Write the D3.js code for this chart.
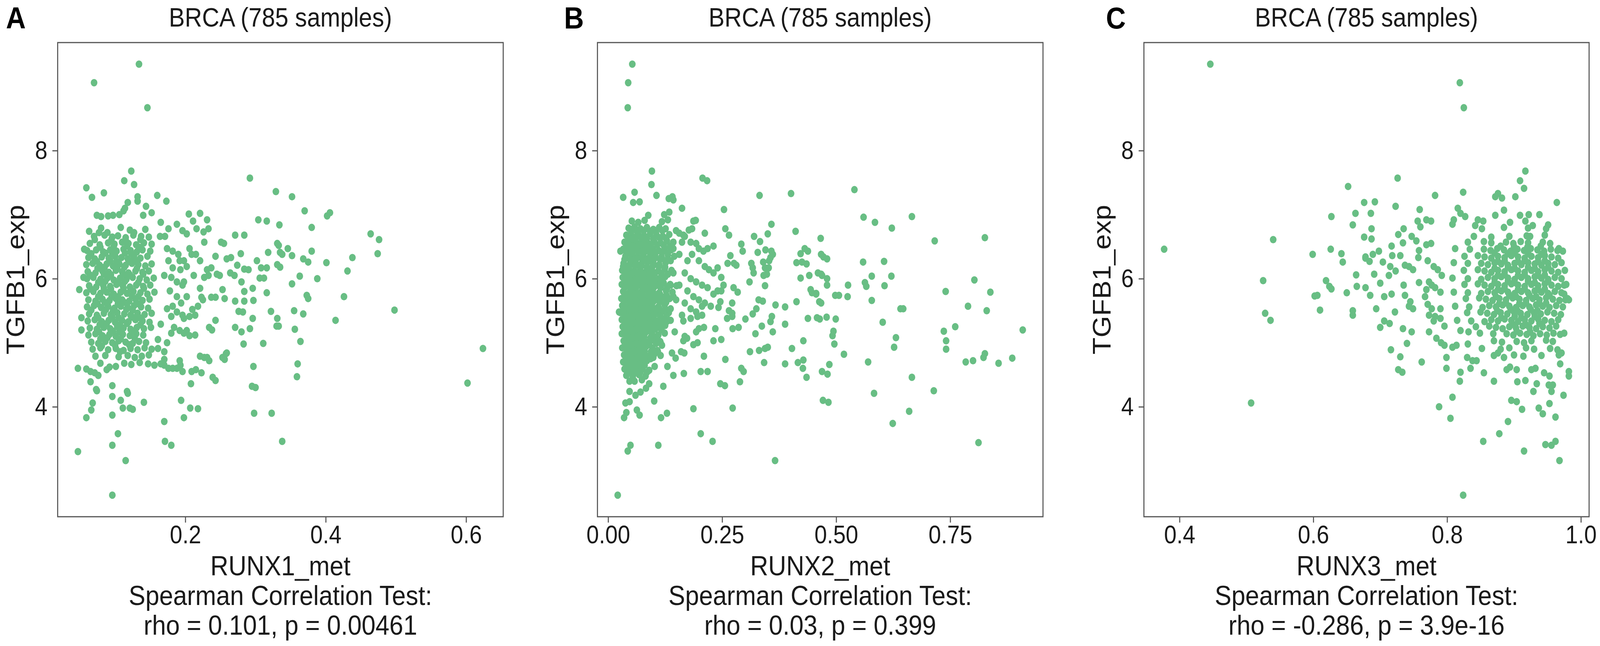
<!DOCTYPE html>
<html>
<head>
<meta charset="utf-8">
<script src="https://cdn.jsdelivr.net/npm/d3@7"></script>
<style>
  html, body { margin: 0; padding: 0; width: 100%; height: 100%; overflow: hidden; background: #fff; }
  #chart { width: 100%; height: 100%; }
  #chart svg { display: block; }
</style>
</head>
<body>
<div id="chart"></div>
<script>
// ---- data ----
const sampleTitle = "BRCA (785 samples)";
const yLabel = "TGFB1_exp";
const yTicks = [4, 6, 8];

const runx1Ticks = [0.2, 0.4, 0.6];
const runx2Ticks = [0, 0.25, 0.5, 0.75];
const runx3Ticks = [0.4, 0.6, 0.8, 1.0];

const xLabels = ["RUNX1_met", "RUNX2_met", "RUNX3_met"];
const statLines = ["rho = 0.101, p = 0.00461", "rho = 0.03, p = 0.399", "rho = -0.286, p = 3.9e-16"];

// [methylation, expression]
const runx1Points = [
  [0.134,9.35],[0.070,9.06],[0.146,8.67],
  [0.123,7.68],[0.113,7.53],[0.127,7.47],[0.059,7.42],[0.067,7.27],[0.084,7.34],[0.292,7.57],[0.329,7.36],[0.160,7.30],[0.173,7.21],[0.132,7.28],[0.132,7.21],[0.118,7.19],[0.114,7.10],[0.144,7.13],[0.152,7.03],
  [0.074,6.99],[0.080,6.97],[0.090,6.98],[0.097,6.99],[0.106,7.00],[0.112,7.06],[0.140,6.99],
  [0.205,7.01],[0.221,7.02],[0.211,6.90],[0.231,6.92],[0.304,6.92],[0.316,6.90],[0.334,6.84],
  [0.063,6.74],[0.077,6.72],[0.271,6.68],[0.284,6.68],[0.251,6.57],[0.255,6.55],[0.331,6.55],[0.318,6.41],[0.335,6.41],[0.331,6.22],[0.279,6.39],[0.243,6.35],[0.259,6.31],[0.265,6.33],[0.302,6.28],[0.308,6.17],[0.316,6.17],[0.306,6.01],[0.312,6.01],[0.284,6.15],[0.274,6.21],[0.290,6.14],[0.270,6.05],[0.264,6.09],[0.280,5.95],[0.296,5.85],[0.316,5.78],[0.284,5.80],[0.297,5.66],[0.271,5.65],[0.284,5.65],[0.276,5.49],[0.282,5.48],[0.322,5.49],[0.296,5.38],[0.331,5.38],[0.330,5.26],[0.271,5.24],[0.280,5.17],[0.292,5.22],[0.283,4.98],[0.311,4.99],[0.297,4.63],[0.295,4.32],[0.298,3.90],[0.323,3.90],[0.338,3.46],
  [0.253,5.83],[0.256,5.69],[0.249,6.05],[0.245,6.07],[0.237,5.71],[0.243,5.71],[0.243,5.35],[0.234,5.24],[0.238,5.20],[0.221,5.85],[0.227,6.02],[0.233,6.05],[0.237,6.17],[0.231,6.14],[0.223,5.71],[0.225,5.67],[0.218,5.57],[0.214,5.43],[0.210,5.52],[0.221,6.28],[0.215,6.38],[0.212,6.05],[0.226,6.73],[0.227,6.57],[0.233,6.78],[0.216,6.78],[0.206,6.47],[0.209,6.38],[0.198,6.28],[0.202,6.19],[0.193,6.14],[0.198,5.95],[0.214,5.12],[0.202,5.19],[0.206,5.11],[0.198,5.38],
  [0.221,4.79],[0.231,4.77],[0.227,4.77],[0.253,4.77],[0.259,4.84],[0.239,4.46],[0.243,4.41],[0.209,4.55],[0.215,4.58],[0.223,4.53],[0.208,4.36],[0.192,4.72],[0.193,4.65],[0.196,4.55],[0.188,4.60],[0.182,4.60],[0.176,4.60],[0.170,4.65],[0.165,4.67],[0.170,4.74],
  [0.194,4.10],[0.207,3.98],[0.218,3.97],[0.198,3.83],[0.170,3.77],[0.171,3.46],[0.180,3.40],[0.141,4.07],[0.096,4.33],[0.096,4.16],[0.096,3.87],[0.108,4.10],[0.111,3.98],[0.118,4.21],[0.121,3.98],[0.125,3.96],[0.117,4.24],[0.104,3.58],[0.096,3.40],[0.115,3.16],[0.096,2.62],[0.047,3.30],[0.059,3.83],[0.066,3.95],[0.068,4.06],[0.073,4.27],[0.074,4.25],[0.065,4.39],[0.047,4.60],[0.059,4.59],[0.065,4.55],[0.071,4.53],[0.076,4.49],[0.079,4.68],[0.088,4.58],[0.092,4.62],[0.101,4.63],[0.049,5.83],[0.052,5.39],[0.052,5.20],[0.056,6.46],[0.055,6.02],
  [0.352,7.28],[0.370,7.06],[0.406,7.03],[0.402,6.98],[0.380,6.80],[0.464,6.70],[0.476,6.61],[0.474,6.39],[0.438,6.33],[0.431,6.12],[0.401,6.25],[0.380,6.43],[0.388,6.00],[0.363,6.04],[0.375,6.26],[0.368,6.31],[0.352,6.36],[0.338,6.38],[0.346,6.47],[0.333,6.52],[0.335,6.18],[0.352,5.92],[0.373,5.74],[0.375,5.69],[0.426,5.72],[0.414,5.35],[0.368,5.45],[0.355,5.50],[0.498,5.51],[0.356,5.21],[0.364,5.02],[0.360,4.67],[0.359,4.47],[0.300,4.30],[0.624,4.91],[0.602,4.37],[0.333,5.26],[0.258,4.83],[0.256,4.74],[0.234,4.72],
  [0.165,6.88],[0.164,6.66],[0.171,6.66],[0.176,6.78],[0.188,6.85],[0.196,6.75],[0.202,6.70],[0.174,6.47],[0.182,6.43],[0.190,6.38],[0.192,6.28],[0.176,6.28],[0.182,6.17],[0.170,6.05],[0.180,6.02],[0.188,5.95],[0.196,5.90],[0.202,5.72],[0.178,5.81],[0.188,5.72],[0.194,5.62],[0.182,5.57],[0.174,5.53],[0.188,5.48],[0.196,5.43],[0.206,5.41],[0.180,5.41],[0.184,5.24],[0.192,5.19],[0.198,5.15],[0.180,5.15],[0.165,5.29],[0.161,5.05],[0.174,5.00],[0.161,4.91],[0.170,4.86],
  [0.080,6.79],[0.108,6.80],[0.121,6.76],[0.143,6.77],
  [0.070,6.66],[0.085,6.68],[0.096,6.65],[0.104,6.67],[0.115,6.64],[0.126,6.68],[0.137,6.66],[0.148,6.65],
  [0.064,6.55],[0.078,6.53],[0.090,6.56],[0.099,6.54],[0.110,6.57],[0.119,6.55],[0.130,6.53],[0.141,6.56],[0.152,6.54],
  [0.060,6.44],[0.073,6.45],[0.083,6.42],[0.093,6.45],[0.102,6.43],[0.112,6.46],[0.122,6.44],[0.131,6.42],[0.139,6.45],[0.150,6.43],
  [0.062,6.33],[0.071,6.31],[0.081,6.34],[0.091,6.32],[0.100,6.35],[0.109,6.33],[0.118,6.31],[0.127,6.34],[0.136,6.32],[0.146,6.35],
  [0.059,6.22],[0.068,6.24],[0.078,6.21],[0.088,6.23],[0.097,6.20],[0.106,6.23],[0.115,6.21],[0.124,6.24],[0.133,6.22],[0.143,6.20],[0.152,6.23],
  [0.061,6.11],[0.072,6.09],[0.082,6.12],[0.091,6.10],[0.101,6.13],[0.110,6.11],[0.119,6.09],[0.129,6.12],[0.139,6.10],[0.148,6.12],
  [0.060,6.00],[0.069,6.02],[0.079,5.99],[0.089,6.01],[0.098,5.98],[0.107,6.01],[0.116,5.99],[0.125,6.02],[0.135,6.00],[0.145,5.98],[0.155,6.01],
  [0.063,5.89],[0.073,5.87],[0.083,5.90],[0.093,5.88],[0.102,5.91],[0.111,5.89],[0.121,5.87],[0.130,5.90],[0.140,5.88],[0.150,5.90],
  [0.059,5.78],[0.069,5.80],[0.079,5.77],[0.088,5.79],[0.098,5.76],[0.108,5.79],[0.117,5.77],[0.126,5.80],[0.136,5.78],[0.146,5.76],[0.156,5.79],
  [0.062,5.67],[0.072,5.65],[0.082,5.68],[0.092,5.66],[0.101,5.69],[0.110,5.67],[0.120,5.65],[0.129,5.68],[0.139,5.66],[0.149,5.68],
  [0.060,5.56],[0.070,5.58],[0.080,5.55],[0.090,5.57],[0.099,5.54],[0.108,5.57],[0.118,5.55],[0.127,5.58],[0.137,5.56],[0.147,5.54],
  [0.063,5.45],[0.074,5.43],[0.084,5.46],[0.094,5.44],[0.103,5.47],[0.113,5.45],[0.122,5.43],[0.132,5.46],[0.142,5.44],[0.152,5.46],
  [0.061,5.34],[0.071,5.36],[0.081,5.33],[0.091,5.35],[0.100,5.32],[0.110,5.35],[0.119,5.33],[0.129,5.36],[0.139,5.34],[0.149,5.32],
  [0.064,5.23],[0.074,5.21],[0.084,5.24],[0.093,5.22],[0.103,5.25],[0.112,5.23],[0.122,5.21],[0.131,5.24],[0.141,5.22],[0.151,5.24],
  [0.062,5.12],[0.072,5.14],[0.082,5.11],[0.092,5.13],[0.101,5.10],[0.111,5.13],[0.121,5.11],[0.130,5.14],[0.140,5.12],
  [0.066,5.01],[0.076,4.99],[0.086,5.02],[0.096,5.00],[0.105,5.03],[0.115,5.01],[0.125,4.99],[0.134,5.02],[0.144,5.00],
  [0.068,4.90],[0.079,4.92],[0.090,4.89],[0.101,4.91],[0.112,4.88],[0.122,4.91],[0.132,4.89],[0.142,4.92],[0.152,4.90],
  [0.072,4.79],[0.086,4.80],[0.105,4.78],[0.118,4.80],[0.128,4.77],[0.138,4.79],[0.148,4.81],
  [0.113,4.68],[0.123,4.66],[0.135,4.69],[0.147,4.67],[0.156,4.65],
  [0.089,6.72],[0.127,6.72],
  [0.071,6.61],[0.095,6.62],[0.115,6.60],[0.136,6.61],
  [0.079,6.49],[0.098,6.50],[0.117,6.51],[0.135,6.49],
  [0.066,6.39],[0.086,6.40],[0.096,6.39],[0.114,6.40],[0.123,6.39],
  [0.074,6.27],[0.093,6.28],[0.102,6.27],[0.120,6.28],[0.129,6.27],
  [0.075,6.16],[0.085,6.18],[0.103,6.16],[0.113,6.18],[0.131,6.16],
  [0.064,6.06],[0.084,6.07],[0.094,6.06],[0.112,6.07],[0.121,6.06],[0.140,6.07],
  [0.076,5.94],[0.086,5.96],[0.105,5.94],[0.114,5.96],[0.133,5.94],
  [0.065,5.84],[0.084,5.85],[0.094,5.84],[0.112,5.85],[0.122,5.84],[0.141,5.85],
  [0.076,5.72],[0.095,5.73],[0.104,5.72],[0.124,5.73],[0.133,5.72],
  [0.075,5.61],[0.085,5.63],[0.104,5.61],[0.113,5.63],[0.132,5.61],
  [0.066,5.51],[0.087,5.52],[0.097,5.51],[0.116,5.52],[0.125,5.51],
  [0.076,5.39],[0.096,5.40],[0.105,5.39],[0.125,5.40],[0.135,5.39],
  [0.078,5.28],[0.088,5.30],[0.107,5.28],[0.117,5.30],[0.136,5.28],
  [0.077,5.17],[0.097,5.18],[0.106,5.17],[0.126,5.18],
  [0.079,5.06],[0.089,5.08],[0.108,5.06],[0.128,5.07],
  [0.081,4.95],[0.100,4.96],[0.120,4.97],
  [0.107,4.86]
];

const runx2Points = [
  [0.053,9.35],[0.044,9.06],[0.043,8.67],[0.096,7.68],[0.095,7.47],[0.033,7.27],[0.058,7.35],[0.106,7.30],[0.207,7.57],[0.217,7.53],[0.332,7.30],[0.401,7.33],[0.133,7.25],[0.141,7.28],[0.143,7.23],[0.162,7.10],[0.254,7.08],[0.055,7.19],[0.069,7.20],[0.123,7.00],[0.134,7.04],[0.088,6.99],[0.187,6.90],[0.192,6.91],[0.212,6.71],[0.177,6.76],[0.184,6.78],[0.149,6.75],[0.156,6.71],[0.165,6.68],[0.257,6.78],[0.265,6.68],[0.358,6.85],[0.350,6.70],[0.411,6.74],[0.466,6.63],[0.292,6.54],[0.320,6.66],[0.333,6.58],[0.328,6.41],[0.345,6.45],[0.358,6.43],[0.361,6.38],[0.356,6.33],[0.422,6.39],[0.431,6.47],[0.438,6.43],[0.413,6.25],[0.425,6.26],[0.435,6.23],[0.467,6.38],[0.314,6.24],[0.317,6.17],[0.319,6.09],[0.340,6.26],[0.344,6.17],[0.348,6.07],[0.341,6.05],[0.352,6.17],[0.353,6.28],[0.344,5.89],[0.310,5.95],[0.422,6.01],[0.441,6.05],[0.460,6.09],[0.469,6.05],[0.444,5.83],[0.456,5.77],[0.413,5.64],[0.463,5.64],[0.330,5.67],[0.339,5.65],[0.367,5.59],[0.388,5.56],[0.438,5.38],[0.458,5.39],[0.359,5.41],[0.356,5.33],[0.388,5.29],[0.337,5.26],[0.323,5.14],[0.361,5.17],[0.301,5.37],[0.317,5.45],[0.325,5.53],[0.428,5.03],[0.403,4.91],[0.350,4.93],[0.344,4.91],[0.331,4.88],[0.311,4.86],[0.342,4.69],[0.388,4.67],[0.416,4.69],[0.428,4.73],[0.427,4.60],[0.435,4.46],[0.469,4.55],[0.471,4.10],[0.292,4.60],[0.297,4.55],[0.289,4.39],[0.273,5.22],[0.286,5.24],[0.272,5.62],[0.272,5.46],[0.265,5.50],[0.272,5.41],[0.261,5.38],[0.284,5.79],[0.275,5.86],[0.281,6.21],[0.276,6.24],[0.262,6.24],[0.268,6.36],[0.295,6.43],[0.248,6.02],[0.253,5.90],[0.248,5.81],[0.240,5.81],[0.246,5.64],[0.242,5.55],[0.257,4.74],[0.248,5.05],[0.231,5.03],[0.235,5.22],[0.246,4.36],[0.256,4.33],[0.273,3.98],[0.187,3.97],[0.203,3.58],[0.229,3.46],[0.366,3.16],[0.110,3.40],[0.043,3.31],[0.049,3.40],[0.021,2.62],[0.101,4.09],[0.116,3.83],[0.129,3.90],[0.063,3.95],[0.069,3.87],[0.035,3.83],[0.040,3.91],[0.038,4.06],[0.047,4.08],[0.047,4.24],[0.060,4.18],[0.071,4.23],[0.047,4.40],[0.058,4.40],[0.074,4.42],[0.083,4.29],[0.090,4.36],[0.121,4.32],[0.102,4.63],[0.130,4.63],[0.143,4.49],[0.166,4.52],[0.203,4.55],[0.218,4.55],[0.210,4.79],[0.140,4.84],[0.148,4.76],[0.167,4.84],[0.160,4.86],[0.146,5.17],[0.165,5.03],[0.173,5.07],[0.168,5.10],[0.187,4.97],[0.196,5.00],[0.193,5.17],[0.199,5.22],[0.210,5.24],[0.165,5.34],[0.181,5.38],[0.196,5.41],[0.206,5.43],[0.027,6.43],[0.024,5.48],
  [0.540,7.39],[0.560,6.96],[0.585,6.88],[0.622,6.79],[0.666,6.97],[0.716,6.59],[0.826,6.64],[0.559,6.26],[0.605,6.27],[0.578,6.04],[0.621,6.04],[0.563,5.94],[0.566,5.88],[0.526,5.90],[0.606,5.89],[0.578,5.66],[0.525,5.72],[0.498,5.74],[0.506,5.74],[0.740,5.80],[0.803,5.98],[0.838,5.79],[0.789,5.57],[0.830,5.50],[0.641,5.53],[0.647,5.53],[0.602,5.32],[0.761,5.25],[0.736,5.18],[0.741,5.03],[0.741,4.90],[0.909,5.20],[0.631,5.08],[0.627,4.93],[0.517,4.82],[0.570,4.70],[0.784,4.70],[0.800,4.72],[0.823,4.77],[0.826,4.83],[0.856,4.68],[0.886,4.76],[0.666,4.46],[0.714,4.25],[0.583,4.21],[0.660,3.93],[0.624,3.74],[0.812,3.44],[0.483,4.07],[0.481,4.51],[0.485,4.66],[0.499,5.37],[0.494,5.18],[0.492,5.11],[0.496,4.98],[0.479,5.40],[0.464,5.37],[0.472,6.34],[0.480,6.31],[0.480,6.00],[0.480,5.90],[0.467,6.07],[0.456,5.76],[0.447,5.78],[0.467,5.62],
  [0.168,6.66],[0.181,6.57],[0.193,6.55],[0.199,6.47],[0.209,6.43],[0.218,6.47],[0.231,6.51],[0.199,6.28],[0.212,6.19],[0.221,6.14],[0.231,6.09],[0.240,6.17],[0.184,6.38],[0.174,6.28],[0.168,6.09],[0.181,6.00],[0.193,5.95],[0.206,5.90],[0.218,5.86],[0.231,5.76],[0.174,5.81],[0.187,5.72],[0.199,5.67],[0.212,5.62],[0.225,5.57],[0.168,5.62],[0.181,5.53],[0.193,5.48],[0.206,5.57],[0.162,5.43],[0.156,5.90],[0.156,6.38],[0.162,6.57],[0.143,6.47],[0.137,6.28],[0.143,6.09],[0.137,5.90],[0.143,5.72],[0.137,5.53],[0.130,5.34],[0.124,5.15],[0.115,5.00],[0.109,4.86],[0.099,4.77],[0.118,4.96],
  [0.052,6.90],[0.066,6.88],[0.080,6.91],[0.118,6.89],[0.131,6.92],
  [0.045,6.79],[0.058,6.81],[0.071,6.78],[0.085,6.80],[0.099,6.77],[0.112,6.80],[0.126,6.78],
  [0.040,6.68],[0.053,6.66],[0.066,6.69],[0.079,6.67],[0.092,6.70],[0.106,6.68],[0.120,6.66],[0.134,6.69],
  [0.036,6.57],[0.049,6.59],[0.062,6.56],[0.075,6.58],[0.088,6.55],[0.101,6.58],[0.115,6.56],[0.129,6.59],[0.143,6.57],
  [0.033,6.46],[0.046,6.44],[0.059,6.47],[0.072,6.45],[0.085,6.48],[0.098,6.46],[0.111,6.44],[0.124,6.47],[0.138,6.45],
  [0.038,6.35],[0.051,6.37],[0.064,6.34],[0.077,6.36],[0.090,6.33],[0.103,6.36],[0.117,6.34],[0.131,6.37],[0.145,6.35],
  [0.034,6.24],[0.047,6.22],[0.060,6.25],[0.073,6.23],[0.086,6.26],[0.099,6.24],[0.112,6.22],[0.126,6.25],
  [0.031,6.13],[0.044,6.15],[0.057,6.12],[0.070,6.14],[0.083,6.11],[0.096,6.14],[0.110,6.12],[0.124,6.15],[0.139,6.13],
  [0.032,6.02],[0.045,6.00],[0.058,6.03],[0.071,6.01],[0.084,6.04],[0.097,6.02],[0.111,6.00],[0.125,6.03],
  [0.030,5.91],[0.043,5.93],[0.056,5.90],[0.069,5.92],[0.082,5.89],[0.095,5.92],[0.108,5.90],[0.122,5.93],[0.136,5.91],[0.150,5.89],
  [0.033,5.80],[0.046,5.78],[0.059,5.81],[0.072,5.79],[0.085,5.82],[0.098,5.80],[0.112,5.78],[0.127,5.81],[0.141,5.79],
  [0.029,5.69],[0.042,5.71],[0.055,5.68],[0.068,5.70],[0.081,5.67],[0.094,5.70],[0.107,5.68],[0.121,5.71],[0.135,5.69],[0.149,5.67],
  [0.031,5.58],[0.044,5.56],[0.057,5.59],[0.070,5.57],[0.083,5.60],[0.096,5.58],[0.110,5.56],[0.124,5.59],
  [0.027,5.47],[0.040,5.49],[0.053,5.46],[0.066,5.48],[0.079,5.45],[0.092,5.48],[0.105,5.46],[0.119,5.49],[0.133,5.47],
  [0.030,5.36],[0.043,5.34],[0.056,5.37],[0.069,5.35],[0.082,5.38],[0.095,5.36],[0.109,5.34],[0.123,5.37],[0.137,5.35],
  [0.032,5.25],[0.045,5.27],[0.058,5.24],[0.071,5.26],[0.084,5.23],[0.097,5.26],[0.111,5.24],[0.125,5.27],
  [0.030,5.14],[0.043,5.12],[0.056,5.15],[0.069,5.13],[0.082,5.16],[0.096,5.14],[0.110,5.12],
  [0.034,5.03],[0.047,5.05],[0.060,5.02],[0.073,5.04],[0.086,5.01],[0.100,5.04],[0.114,5.02],
  [0.031,4.92],[0.044,4.90],[0.057,4.93],[0.070,4.91],[0.083,4.94],[0.097,4.92],
  [0.035,4.81],[0.048,4.83],[0.061,4.80],[0.074,4.82],[0.087,4.79],[0.101,4.82],[0.115,4.80],
  [0.033,4.70],[0.046,4.68],[0.059,4.71],[0.072,4.69],[0.085,4.72],
  [0.036,4.59],[0.049,4.61],[0.062,4.58],[0.075,4.60],[0.090,4.57],
  [0.040,4.49],[0.054,4.47],[0.068,4.50],[0.082,4.48],
  [0.051,6.74],[0.064,6.73],[0.078,6.75],[0.092,6.74],[0.105,6.73],[0.119,6.75],
  [0.046,6.63],[0.059,6.62],[0.072,6.64],[0.085,6.63],[0.099,6.62],[0.113,6.64],[0.127,6.63],
  [0.042,6.52],[0.055,6.51],[0.068,6.53],[0.081,6.52],[0.094,6.51],[0.108,6.53],[0.122,6.52],[0.136,6.51],
  [0.040,6.41],[0.053,6.40],[0.066,6.42],[0.079,6.41],[0.092,6.40],[0.105,6.42],[0.118,6.41],[0.131,6.40],
  [0.036,6.30],[0.049,6.29],[0.062,6.31],[0.075,6.30],[0.088,6.29],[0.101,6.31],[0.114,6.30],[0.128,6.29],
  [0.033,6.19],[0.046,6.18],[0.059,6.20],[0.072,6.19],[0.085,6.18],[0.098,6.20],[0.111,6.19],[0.125,6.18],
  [0.038,6.08],[0.051,6.07],[0.064,6.09],[0.077,6.08],[0.090,6.07],[0.103,6.09],[0.117,6.08],[0.131,6.07],
  [0.037,5.97],[0.050,5.96],[0.063,5.98],[0.076,5.97],[0.089,5.96],[0.102,5.98],[0.116,5.97],
  [0.036,5.86],[0.049,5.85],[0.062,5.87],[0.075,5.86],[0.088,5.85],[0.101,5.87],[0.115,5.86],[0.129,5.85],
  [0.036,5.75],[0.049,5.74],[0.062,5.76],[0.075,5.75],[0.088,5.74],[0.101,5.76],[0.114,5.75],[0.128,5.74],
  [0.035,5.64],[0.048,5.63],[0.061,5.65],[0.074,5.64],[0.087,5.63],[0.100,5.65],[0.113,5.64],[0.127,5.63],
  [0.034,5.53],[0.047,5.52],[0.060,5.54],[0.073,5.53],[0.086,5.52],[0.099,5.54],[0.112,5.53],[0.126,5.52],
  [0.036,5.42],[0.049,5.41],[0.062,5.43],[0.075,5.42],[0.088,5.41],[0.101,5.43],[0.114,5.42],[0.128,5.41],
  [0.038,5.31],[0.051,5.30],[0.064,5.32],[0.077,5.31],[0.090,5.30],[0.104,5.32],[0.117,5.31],
  [0.036,5.20],[0.049,5.19],[0.062,5.21],[0.075,5.20],[0.089,5.19],[0.103,5.21],[0.117,5.20],
  [0.040,5.09],[0.053,5.08],[0.066,5.10],[0.079,5.09],[0.093,5.08],[0.107,5.10],
  [0.037,4.98],[0.050,4.97],[0.063,4.99],[0.076,4.98],[0.090,4.97],[0.105,4.99],
  [0.041,4.87],[0.054,4.86],[0.067,4.88],[0.080,4.87],[0.094,4.86],[0.108,4.88],
  [0.040,4.76],[0.053,4.75],[0.066,4.77],[0.079,4.76],[0.093,4.75],
  [0.042,4.65],[0.055,4.64],[0.068,4.66],[0.080,4.65],
  [0.045,4.54],[0.058,4.53],[0.071,4.55],[0.085,4.54]
];

const runx3Points = [
  [0.446,9.35],[0.819,9.06],[0.825,8.67],[0.824,2.62],[0.377,6.46],[0.540,6.61],[0.525,5.97],[0.528,5.46],[0.536,5.35],[0.507,4.06],[0.599,6.38],[0.626,6.46],[0.627,6.97],[0.619,5.97],[0.624,5.88],[0.627,5.84],[0.602,5.73],[0.606,5.74],[0.610,5.51],[0.642,6.39],[0.644,6.26],[0.652,7.44],[0.650,5.78],[0.659,5.43],[0.659,5.50],[0.663,7.02],[0.659,6.84],[0.664,6.06],[0.676,7.19],[0.676,6.65],[0.665,5.88],[0.678,6.34],[0.684,6.27],
  [0.726,7.57],[0.917,7.68],[0.909,7.53],[0.915,7.41],[0.964,7.19],[0.723,7.13],[0.782,7.30],[0.824,7.35],[0.872,7.28],[0.876,7.33],[0.882,7.26],[0.902,7.28],[0.692,7.20],[0.686,7.02],[0.759,7.08],[0.816,7.10],[0.820,7.02],[0.827,6.97],[0.885,7.07],[0.872,6.99],[0.909,6.99],[0.922,7.00],[0.938,7.00],[0.951,6.84],[0.808,6.85],[0.810,6.92],[0.756,6.90],[0.769,6.92],[0.760,6.81],[0.776,6.90],[0.846,6.92],[0.854,6.90],[0.842,6.83],[0.894,6.88],[0.917,6.90],[0.928,6.83],[0.924,6.66],[0.687,6.78],[0.687,6.62],[0.727,6.69],[0.735,6.78],[0.734,6.56],[0.747,6.66],[0.754,6.59],[0.717,6.51],[0.698,6.43],[0.689,6.38],[0.678,6.32],[0.730,6.36],[0.718,6.36],[0.715,6.19],[0.704,6.26],[0.758,6.44],[0.757,6.33],[0.769,6.53],[0.776,6.55],[0.737,6.21],[0.743,6.19],[0.749,6.14],[0.723,6.12],[0.713,6.05],[0.700,5.93],[0.691,6.07],[0.678,5.86],[0.685,5.74],[0.706,5.72],[0.717,5.76],[0.694,5.53],[0.735,5.90],[0.758,5.94],[0.737,5.74],[0.745,5.64],[0.743,5.57],[0.749,5.53],[0.722,5.48],[0.706,5.34],[0.700,5.24],[0.714,5.30],[0.734,5.22],[0.747,5.17],[0.740,4.99],[0.716,4.89],[0.730,4.78],[0.727,4.58],[0.733,4.54],[0.762,4.70],[0.767,5.72],[0.771,5.60],[0.777,5.53],[0.782,5.41],[0.769,5.83],[0.773,5.95],[0.777,5.90],[0.771,6.28],[0.780,6.19],[0.786,6.14],[0.792,6.05],[0.790,5.79],[0.782,5.86],[0.790,5.53],[0.780,5.34],[0.773,5.43],[0.790,5.38],[0.796,5.26],[0.773,5.17],[0.784,5.07],[0.791,5.00],[0.796,4.96],[0.799,4.77],[0.799,4.60],[0.808,4.93],[0.814,4.96],[0.808,4.15],[0.805,3.82],[0.788,4.00],[0.820,4.54],[0.819,4.40],[0.831,4.98],[0.832,5.17],[0.820,5.19],[0.830,4.77],[0.838,4.72],[0.835,4.60],[0.844,4.72],[0.855,4.53],[0.870,4.40],[0.854,3.46],[0.878,3.58],[0.891,3.77],[0.896,4.10],[0.904,4.08],[0.912,3.96],[0.915,3.31],[0.905,4.39],[0.917,4.41],[0.929,4.24],[0.934,4.36],[0.937,3.98],[0.943,3.89],[0.953,4.05],[0.962,3.84],[0.947,3.41],[0.956,3.40],[0.962,3.46],[0.968,3.16],[0.974,4.18],[0.982,4.55],[0.982,4.48],[0.952,4.34],[0.958,4.34],[0.956,4.24],[0.945,4.53],[0.953,4.48],[0.971,4.84],[0.969,4.67],[0.975,5.15],[0.977,5.67],[0.982,5.67],[0.973,6.43],[0.967,6.47],[0.975,5.90],[0.975,5.76],[0.894,4.62],[0.904,4.58],[0.889,4.58],[0.926,4.58],[0.932,4.60],[0.885,4.77],[0.876,4.84],
  [0.852,6.78],[0.885,6.80],[0.921,6.79],[0.948,6.78],
  [0.840,6.66],[0.866,6.65],[0.893,6.66],[0.919,6.67],[0.946,6.68],
  [0.831,6.57],[0.855,6.58],[0.866,6.56],[0.888,6.57],[0.899,6.55],[0.910,6.58],[0.921,6.56],[0.943,6.57],[0.954,6.55],
  [0.812,6.47],[0.834,6.46],[0.855,6.46],[0.865,6.44],[0.875,6.47],[0.885,6.45],[0.895,6.43],[0.905,6.46],[0.915,6.44],[0.925,6.47],[0.935,6.45],[0.945,6.43],[0.955,6.46],[0.965,6.44],
  [0.826,6.35],[0.846,6.36],[0.856,6.34],[0.866,6.32],[0.876,6.35],[0.886,6.33],[0.896,6.36],[0.906,6.34],[0.916,6.32],[0.926,6.35],[0.936,6.33],[0.946,6.36],[0.956,6.34],[0.966,6.32],
  [0.810,6.25],[0.831,6.24],[0.851,6.24],[0.861,6.22],[0.871,6.25],[0.881,6.23],[0.891,6.21],[0.901,6.24],[0.911,6.22],[0.921,6.25],[0.931,6.23],[0.941,6.21],[0.951,6.24],[0.961,6.22],[0.971,6.25],
  [0.825,6.13],[0.846,6.14],[0.856,6.12],[0.866,6.10],[0.876,6.13],[0.886,6.11],[0.896,6.14],[0.906,6.12],[0.916,6.10],[0.926,6.13],[0.936,6.11],[0.946,6.14],[0.956,6.12],[0.966,6.10],[0.976,6.13],
  [0.808,6.01],[0.831,6.00],[0.851,5.99],[0.861,6.02],[0.871,6.00],[0.881,6.03],[0.891,6.01],[0.901,5.99],[0.911,6.02],[0.921,6.00],[0.931,6.03],[0.941,6.01],[0.951,5.99],[0.961,6.02],[0.971,6.00],
  [0.826,5.91],[0.846,5.92],[0.856,5.90],[0.866,5.88],[0.876,5.91],[0.886,5.89],[0.896,5.92],[0.906,5.90],[0.916,5.88],[0.926,5.91],[0.936,5.89],[0.946,5.92],[0.956,5.90],[0.966,5.88],[0.978,5.91],
  [0.810,5.79],[0.831,5.78],[0.851,5.77],[0.861,5.80],[0.871,5.78],[0.881,5.81],[0.891,5.79],[0.901,5.77],[0.911,5.80],[0.921,5.78],[0.931,5.81],[0.941,5.79],[0.951,5.77],[0.961,5.80],[0.971,5.78],
  [0.828,5.69],[0.848,5.70],[0.858,5.68],[0.868,5.66],[0.878,5.69],[0.888,5.67],[0.898,5.70],[0.908,5.68],[0.918,5.66],[0.928,5.69],[0.938,5.67],[0.948,5.70],[0.958,5.68],[0.968,5.66],[0.980,5.69],
  [0.812,5.57],[0.833,5.56],[0.853,5.55],[0.863,5.58],[0.873,5.56],[0.883,5.59],[0.893,5.57],[0.903,5.55],[0.913,5.58],[0.923,5.56],[0.933,5.59],[0.943,5.57],[0.953,5.55],[0.963,5.58],[0.973,5.56],
  [0.830,5.47],[0.850,5.48],[0.860,5.46],[0.870,5.44],[0.880,5.47],[0.890,5.45],[0.900,5.48],[0.910,5.46],[0.920,5.44],[0.930,5.47],[0.940,5.45],[0.950,5.48],[0.960,5.46],[0.970,5.44],
  [0.815,5.35],[0.836,5.34],[0.856,5.33],[0.866,5.36],[0.876,5.34],[0.886,5.37],[0.896,5.35],[0.906,5.33],[0.916,5.36],[0.926,5.34],[0.936,5.37],[0.946,5.35],[0.956,5.33],[0.966,5.36],
  [0.843,5.25],[0.863,5.26],[0.873,5.24],[0.883,5.22],[0.893,5.25],[0.903,5.23],[0.913,5.26],[0.923,5.24],[0.933,5.22],[0.943,5.25],[0.953,5.23],[0.963,5.26],
  [0.849,5.15],[0.869,5.14],[0.889,5.14],[0.899,5.12],[0.909,5.15],[0.919,5.13],[0.929,5.11],[0.939,5.14],[0.949,5.12],[0.959,5.15],[0.969,5.13],
  [0.870,5.03],[0.882,5.01],[0.904,5.02],[0.915,5.00],[0.926,5.03],[0.948,5.04],[0.958,5.02],
  [0.852,4.91],[0.880,4.90],[0.893,4.92],[0.918,4.92],[0.930,4.90],[0.954,4.91],[0.965,4.89],
  [0.870,4.80],[0.900,4.81],[0.914,4.79],[0.941,4.80],[0.967,4.81],
  [0.880,6.51],[0.900,6.50],[0.920,6.49],[0.940,6.51],
  [0.871,6.40],[0.891,6.39],[0.901,6.40],[0.921,6.39],[0.941,6.38],
  [0.876,6.27],[0.886,6.28],[0.906,6.27],[0.916,6.28],[0.936,6.27],[0.946,6.28],
  [0.871,6.16],[0.891,6.18],[0.901,6.16],[0.921,6.18],[0.931,6.16],[0.951,6.18],
  [0.876,6.05],[0.886,6.06],[0.906,6.05],[0.916,6.06],[0.936,6.05],[0.946,6.06],
  [0.871,5.94],[0.891,5.96],[0.901,5.94],[0.921,5.96],[0.931,5.94],[0.951,5.96],
  [0.876,5.83],[0.886,5.84],[0.906,5.83],[0.916,5.84],[0.936,5.83],[0.946,5.84],
  [0.873,5.72],[0.893,5.74],[0.903,5.72],[0.923,5.74],[0.933,5.72],[0.953,5.74],
  [0.878,5.61],[0.888,5.62],[0.908,5.61],[0.918,5.62],[0.938,5.61],[0.948,5.62],
  [0.875,5.50],[0.895,5.52],[0.905,5.50],[0.925,5.52],[0.935,5.50],
  [0.881,5.39],[0.901,5.41],[0.911,5.39],[0.931,5.41],
  [0.898,5.29],[0.918,5.28],[0.938,5.30],
  [0.904,5.18],[0.924,5.17]
];

// ---- layout, in the reference's 4550 x 1654 coordinate space ----
const width = 4550, height = 1654;
const plotTop = 109, plotBottom = 1323;
const fontFamily = "'Liberation Sans', Arial, Helvetica, sans-serif";
const dotColor = "#68BE84";
const inkColor = "#1a1a1a";
const frameColor = "#555555";

const panels = [
  { letter: "A", letterX: 17,   left: 164,  right: 1431, points: runx1Points, ticks: runx1Ticks, fmt: ".1f", xLabel: xLabels[0], stat: statLines[0] },
  { letter: "B", letterX: 1604, left: 1699, right: 2966, points: runx2Points, ticks: runx2Ticks, fmt: ".2f", xLabel: xLabels[1], stat: statLines[1] },
  { letter: "C", letterX: 3145, left: 3253, right: 4519, points: runx3Points, ticks: runx3Ticks, fmt: ".1f", xLabel: xLabels[2], stat: statLines[2] }
];

// ggplot-like 5% expansion of the data range
function expand(ext) {
  const pad = (ext[1] - ext[0]) * 0.05;
  return [ext[0] - pad, ext[1] + pad];
}

// the browser window may be narrower than the figure, so stretch the
// figure's coordinate space over the whole window
const svg = d3.select("#chart")
  .append("svg")
  .attr("viewBox", `0 0 ${width} ${height}`)
  .attr("preserveAspectRatio", "none")
  .attr("width", "100%")
  .attr("height", "100%")
  .style("font-family", fontFamily);

svg.append("rect").attr("width", width).attr("height", height).attr("fill", "#fff");

const allExp = panels.flatMap(p => p.points.map(d => d[1]));
const y = d3.scaleLinear()
  .domain(expand(d3.extent(allExp)))
  .range([plotBottom, plotTop]);

panels.forEach(p => {
  const x = d3.scaleLinear()
    .domain(expand(d3.extent(p.points, d => d[0])))
    .range([p.left, p.right]);
  const cx = (p.left + p.right) / 2;
  const g = svg.append("g");

  // points
  g.append("g")
    .selectAll("circle")
    .data(p.points)
    .join("circle")
    .attr("cx", d => x(d[0]))
    .attr("cy", d => y(d[1]))
    .attr("r", 9.5)
    .attr("fill", dotColor);

  // panel border
  g.append("rect")
    .attr("x", p.left)
    .attr("y", plotTop)
    .attr("width", p.right - p.left)
    .attr("height", plotBottom - plotTop)
    .attr("fill", "none")
    .attr("stroke", frameColor)
    .attr("stroke-width", 3);

  // x axis
  const xa = g.append("g")
    .attr("transform", `translate(0,${plotBottom})`)
    .call(d3.axisBottom(x).tickValues(p.ticks).tickFormat(d3.format(p.fmt)).tickSize(15).tickPadding(8));

  // y axis
  const ya = g.append("g")
    .attr("transform", `translate(${p.left},0)`)
    .call(d3.axisLeft(y).tickValues(yTicks).tickFormat(d3.format("d")).tickSize(15).tickPadding(14));

  [xa, ya].forEach(a => {
    a.select(".domain").remove();
    a.attr("font-family", fontFamily).attr("font-size", 64);
    a.selectAll(".tick line").attr("stroke", frameColor).attr("stroke-width", 3);
    a.selectAll(".tick text").attr("fill", inkColor);
  });

  // panel letter
  g.append("text")
    .attr("x", p.letterX)
    .attr("y", 73)
    .attr("font-size", 78)
    .attr("font-weight", "bold")
    .attr("fill", "#000")
    .text(p.letter);

  // title
  g.append("text")
    .attr("x", cx)
    .attr("y", 68)
    .attr("text-anchor", "middle")
    .attr("font-size", 68)
    .attr("fill", inkColor)
    .text(sampleTitle);

  // y title
  g.append("text")
    .attr("transform", `translate(${p.left - 95},${(plotTop + plotBottom) / 2}) rotate(-90)`)
    .attr("text-anchor", "middle")
    .attr("font-size", 71)
    .attr("fill", inkColor)
    .text(yLabel);

  // x title + test lines
  [p.xLabel, "Spearman Correlation Test:", p.stat].forEach((line, i) => {
    g.append("text")
      .attr("x", cx)
      .attr("y", plotBottom + 150 + i * 76)
      .attr("text-anchor", "middle")
      .attr("font-size", 71)
      .attr("fill", inkColor)
      .text(line);
  });
});
</script>
</body>
</html>
